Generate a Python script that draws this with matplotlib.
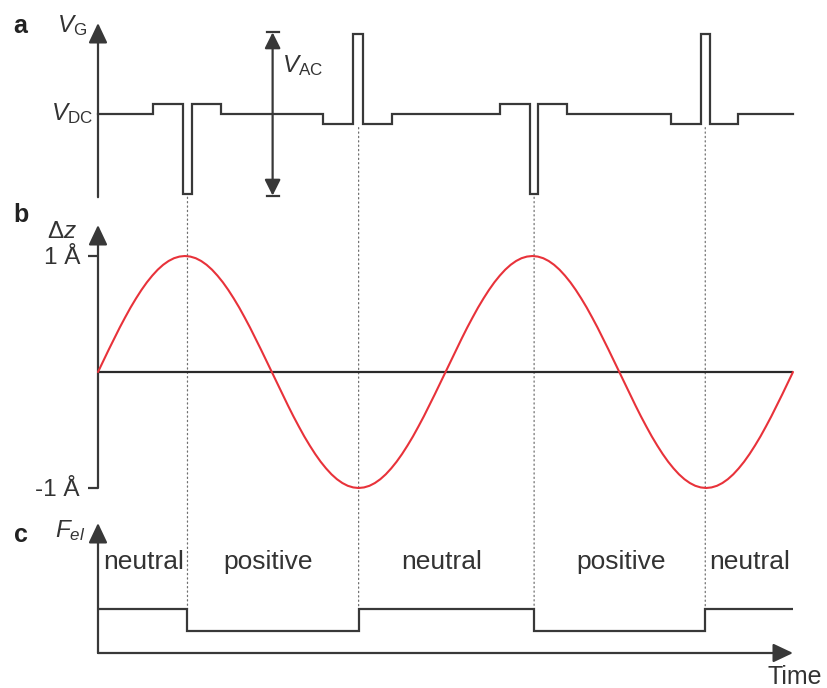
import numpy as np
import matplotlib
matplotlib.use("Agg")
import matplotlib.pyplot as plt
from matplotlib.patches import ConnectionPatch

# ---------------- data ----------------
# (a) gate voltage: step times (time in units of a quarter oscillation period) and levels (V_AC/2 = 1)
gate_times = [0.0, 0.63, 0.98, 1.08, 1.42, 2.59, 2.94, 3.05, 3.38,
              4.63, 4.97, 5.07, 5.40, 6.60, 6.94, 7.04, 7.37, 8.0]
gate_levels = [0.0, 0.13, -1.0, 0.13, 0.0, -0.13, 1.0, -0.13, 0.0,
               0.13, -1.0, 0.13, 0.0, -0.13, 1.0, -0.13, 0.0, 0.0]

# (b) tip height (Angstrom), read every 1/16 of a quarter period from t = 0 to t = 8
dz_times = np.linspace(0.0, 8.0, 129)
dz_values = [
    0.000, 0.098, 0.195, 0.290, 0.383, 0.471, 0.556, 0.634, 0.707, 0.773, 0.831, 0.882, 0.924, 0.957, 0.981, 0.995, 1.000,
    0.995, 0.981, 0.957, 0.924, 0.882, 0.831, 0.773, 0.707, 0.634, 0.556, 0.471, 0.383, 0.290, 0.195, 0.098, 0.000,
    -0.098, -0.195, -0.290, -0.383, -0.471, -0.556, -0.634, -0.707, -0.773, -0.831, -0.882, -0.924, -0.957, -0.981, -0.995, -1.000,
    -0.995, -0.981, -0.957, -0.924, -0.882, -0.831, -0.773, -0.707, -0.634, -0.556, -0.471, -0.383, -0.290, -0.195, -0.098, 0.000,
    0.098, 0.195, 0.290, 0.383, 0.471, 0.556, 0.634, 0.707, 0.773, 0.831, 0.882, 0.924, 0.957, 0.981, 0.995, 1.000,
    0.995, 0.981, 0.957, 0.924, 0.882, 0.831, 0.773, 0.707, 0.634, 0.556, 0.471, 0.383, 0.290, 0.195, 0.098, 0.000,
    -0.098, -0.195, -0.290, -0.383, -0.471, -0.556, -0.634, -0.707, -0.773, -0.831, -0.882, -0.924, -0.957, -0.981, -0.995, -1.000,
    -0.995, -0.981, -0.957, -0.924, -0.882, -0.831, -0.773, -0.707, -0.634, -0.556, -0.471, -0.383, -0.290, -0.195, -0.098, 0.000,
]
dz_ticks = [-1, 1]
dz_ticklabels = ["-1 Å", "1 Å"]

# (c) electrostatic force: charge-state switching times and levels
state_times = [0.0, 1.03, 3.0, 5.02, 6.99, 8.0]
force_levels = [2.0, 1.0, 2.0, 1.0, 2.0, 2.0]
state_labels = ["neutral", "positive", "neutral", "positive", "neutral"]
state_label_x = [0.52, 1.96, 3.95, 6.02, 7.50]
switch_times = state_times[1:-1]

# ---------------- style ----------------
plt.rcParams.update({
    "font.family": ["Liberation Sans", "DejaVu Sans"],
    "mathtext.fontset": "custom",
    "mathtext.rm": "Liberation Sans",
    "mathtext.it": "Liberation Sans:italic",
    "mathtext.bf": "Liberation Sans:bold",
    "text.color": "#333333",
})
INK = "#383838"
RED = "#e8323a"
LW = 1.6

W, H = 827, 688
fig = plt.figure(figsize=(W / 100, H / 100), dpi=100)
X0, X1 = 98, 793


def band(top, bottom):
    return [X0 / W, 1 - bottom / H, (X1 - X0) / W, (bottom - top) / H]


ax_a = fig.add_axes(band(0, 205))
ax_b = fig.add_axes(band(205, 500))
ax_c = fig.add_axes(band(500, 688))
for ax in (ax_a, ax_b, ax_c):
    ax.set_xlim(0, 8)
    ax.set_xticks([])
    for s in ax.spines.values():
        s.set_visible(False)
    ax.patch.set_alpha(0)
ax_a.set_yticks([])
ax_c.set_yticks([])

# vertical scales (pixel row of zero and pixels per unit)
ax_a.set_ylim((114 - 205) / 80, (114 - 0) / 80)
ax_b.set_ylim((372 - 500) / 116, (372 - 205) / 116)
ax_c.set_ylim((653 - 688) / 22, (653 - 500) / 22)


def arrow(ax, start, end, style="-|>", ms=22, hl=0.55, hw=0.26, lw=LW):
    ax.annotate("", xy=end, xytext=start, annotation_clip=False,
                arrowprops=dict(arrowstyle=f"{style},head_length={hl},head_width={hw}",
                                lw=lw, color=INK, shrinkA=0, shrinkB=0,
                                mutation_scale=ms))


# ---- panel a ----
arrow(ax_a, (0, -1.04), (0, (114 - 23) / 80))
ax_a.step(gate_times, gate_levels, where="post", color=INK, lw=LW,
          solid_joinstyle="miter", clip_on=False)
vac_x = 2.01
arrow(ax_a, (vac_x, -1.02), (vac_x, 1.02), style="<|-|>", ms=16, hl=0.6, hw=0.3)
for yc in (-1.02, 1.02):
    ax_a.plot([vac_x - 0.07, vac_x + 0.07], [yc, yc], color=INK, lw=LW)
ax_a.text(-0.127, 1.025, r"$V_{\mathrm{G}}$", ha="right", va="baseline", fontsize=17.5)
ax_a.text(-0.058, -0.075, r"$V_{\mathrm{DC}}$", ha="right", va="baseline", fontsize=17.5)
ax_a.text(2.118, 0.525, r"$V_{\mathrm{AC}}$", ha="left", va="baseline", fontsize=17.5)

# ---- panel b ----
arrow(ax_b, (0, -1), (0, (372 - 225) / 116))
ax_b.plot([0, 8], [0, 0], color="#2a2a2a", lw=LW, zorder=2)
ax_b.plot(dz_times, dz_values, color=RED, lw=1.5, zorder=3, clip_on=False,
          solid_joinstyle="round", solid_capstyle="round")
ax_b.set_yticks(dz_ticks)
ax_b.set_yticklabels(dz_ticklabels)
ax_b.tick_params(axis="y", length=7, width=LW, color=INK, pad=6,
                 labelsize=17.5, labelcolor="#333333")
ax_b.text(-0.242, 1.155, r"$\Delta z$", ha="right", va="baseline", fontsize=17.5)

# ---- panel c ----
arrow(ax_c, (0, 0), (0, (653 - 523) / 22))
arrow(ax_c, (0, 0), (8, 0))
ax_c.step(state_times, force_levels, where="post", color=INK, lw=LW,
          solid_joinstyle="miter")
for lab, xc in zip(state_labels, state_label_x):
    ax_c.text(xc, 3.82, lab, ha="center", va="baseline", fontsize=19)
ax_c.text(-0.15, 5.27, r"$F_{el}$", ha="right", va="baseline", fontsize=17.5)
ax_c.text(8.02, (653 - 684) / 22, "Time", ha="center", va="baseline", fontsize=18)

# ---- dotted guide lines from (a) through (b) to (c) ----
for t in switch_times:
    near = [gate_levels[k] for k in range(len(gate_times) - 1)
            if gate_times[k] < t + 0.06 and gate_times[k + 1] > t - 0.06]
    top = min(near) - 0.04
    i = state_times.index(t)
    con = ConnectionPatch(xyA=(t, top), coordsA=ax_a.transData,
                          xyB=(t, max(force_levels[i - 1], force_levels[i])),
                          coordsB=ax_c.transData,
                          linestyle=(0, (1, 2.5)), lw=0.9, color="#707070", zorder=0)
    fig.add_artist(con)

# ---- panel letters ----
fig.text(13 / W, 1 - 33 / H, "a", fontweight="bold", fontsize=18, color="#222222")
fig.text(13 / W, 1 - 222 / H, "b", fontweight="bold", fontsize=18, color="#222222")
fig.text(14 / W, 1 - 542 / H, "c", fontweight="bold", fontsize=18, color="#222222")

fig.savefig("out.png", dpi=100)
